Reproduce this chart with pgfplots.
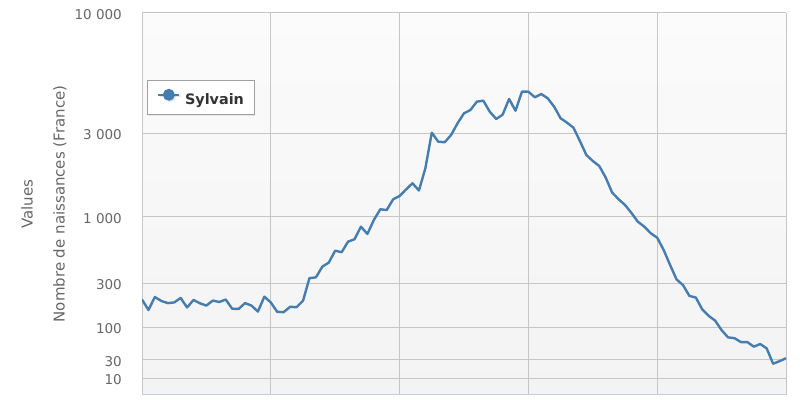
\documentclass[border=0pt]{standalone}
\usepackage{pgfplots}
\pgfplotsset{compat=1.18}
\usepackage{pgfplotstable}
\usepackage{fontspec}
\setmainfont{DejaVu Sans}
\usetikzlibrary{shadows}
\definecolor{serie}{HTML}{467DAF}
\definecolor{gridc}{HTML}{C6C6C6}
\definecolor{axisc}{HTML}{C0D0E0}
\definecolor{labc}{HTML}{666666}
\definecolor{legc}{HTML}{333333}
\definecolor{legbd}{HTML}{A0A0A0}
\definecolor{bgtop}{HTML}{FBFBFB}
\definecolor{bgbot}{HTML}{F3F3F3}

\pgfplotstableread{
year v
1900 200
1901 154
1902 213
1903 193
1904 183
1905 186
1906 208
1907 164
1908 198
1909 182
1910 172
1911 195
1912 188
1913 200
1914 159
1915 158
1916 183
1917 172
1918 148
1919 215
1920 186
1921 147
1922 146
1923 167
1924 165
1925 194
1926 329
1927 334
1928 405
1929 436
1930 541
1931 526
1932 637
1933 665
1934 835
1935 732
1936 942
1937 1102
1938 1092
1939 1258
1940 1313
1941 1431
1942 1553
1943 1412
1944 1892
1945 3018
1946 2687
1947 2665
1948 2935
1949 3316
1950 3665
1951 3788
1952 4117
1953 4158
1954 3724
1955 3462
1956 3614
1957 4229
1958 3761
1959 4550
1960 4550
1961 4301
1962 4445
1963 4258
1964 3915
1965 3486
1966 3336
1967 3172
1968 2710
1969 2254
1970 2083
1971 1950
1972 1676
1973 1375
1974 1259
1975 1167
1976 1050
1977 913
1978 835
1979 741
1980 684
1981 548
1982 418
1983 322
1984 287
1985 219
1986 210
1987 156
1988 133
1989 118
1990 90
1991 69
1992 67
1993 58
1994 58
1995 49
1996 54
1997 46
1998 24
1999 28
2000 32
}\sylvain

\begin{document}
\begin{tikzpicture}[x=1pt,y=1pt]
\path (0,0) rectangle (800,400);
\begin{axis}[
  at={(142pt,5pt)}, anchor=south west,
  scale only axis, width=644pt, height=382pt,
  xmin=1900, xmax=2000, ymin=3.754, ymax=10000,
  y coord trafo/.code={%
    \pgfmathparse{ln(#1)*0.4342945}\let\Lval\pgfmathresult
    \pgfmathparse{\Lval<1.4771 ? 16.5+(\Lval-1)*38.78 : (\Lval<2 ? 35+(\Lval-1.4771)*62.54 : (\Lval<2.4771 ? 67.7+(\Lval-2)*92.22 : (\Lval<3 ? 111.7+(\Lval-2.4771)*127.37 : (\Lval<3.4771 ? 178.3+(\Lval-3)*174.8 : 261.7+(\Lval-3.4771)*230.06))))}%
  },
  xtick={1900,1920,...,2000}, xticklabels={},
  ytick={10,30,100,300,1000,3000,10000},
  yticklabels={10,30,100,300,1 000,3 000,10 000},
  grid=major, major grid style={gridc, line width=1pt},
  major tick length=0pt,
  axis line style={draw=none},
  axis background/.style={top color=bgtop, bottom color=bgbot},
  yticklabel style={font=\fontsize{13.5}{15}\selectfont, text=labc, anchor=east, inner sep=0pt, xshift=-20pt, yshift=-1.5pt},
  ylabel={Nombre de naissances (France)},
  every axis y label/.style={at={(axis description cs:0,0.5)}, xshift=-82pt, rotate=90, anchor=center, font=\fontsize{15}{17}\selectfont, text=labc},
  legend style={at={(axis description cs:0,1)}, anchor=north west, xshift=4.7pt, yshift=-67pt,
    draw=legbd, line width=0.8pt, fill=white, inner xsep=10pt, inner ysep=8.5pt,
    nodes={inner sep=0pt},
    font=\fontsize{14.4}{17}\selectfont\bfseries, text=legc, column sep=4.5pt,
    drop shadow={shadow xshift=1.5pt, shadow yshift=-1.5pt, opacity=0.15}},
  legend image code/.code={%
    \draw[serie, line width=2.4pt] (0pt,4.8pt) -- (21pt,4.8pt);
    \fill[serie] (10.5pt,4.8pt) circle (4.7pt);
  },
]
\addplot[serie, line width=2.4pt, line join=round, no markers] table[x=year, y=v] {\sylvain};
\addlegendentry{Sylvain}
\draw[axisc, line width=1pt] (rel axis cs:0,0) -- (rel axis cs:1,0);
\end{axis}
\node[rotate=90, font=\fontsize{15}{17}\selectfont, text=labc] at (27,196) {Values};
\end{tikzpicture}
\end{document}
